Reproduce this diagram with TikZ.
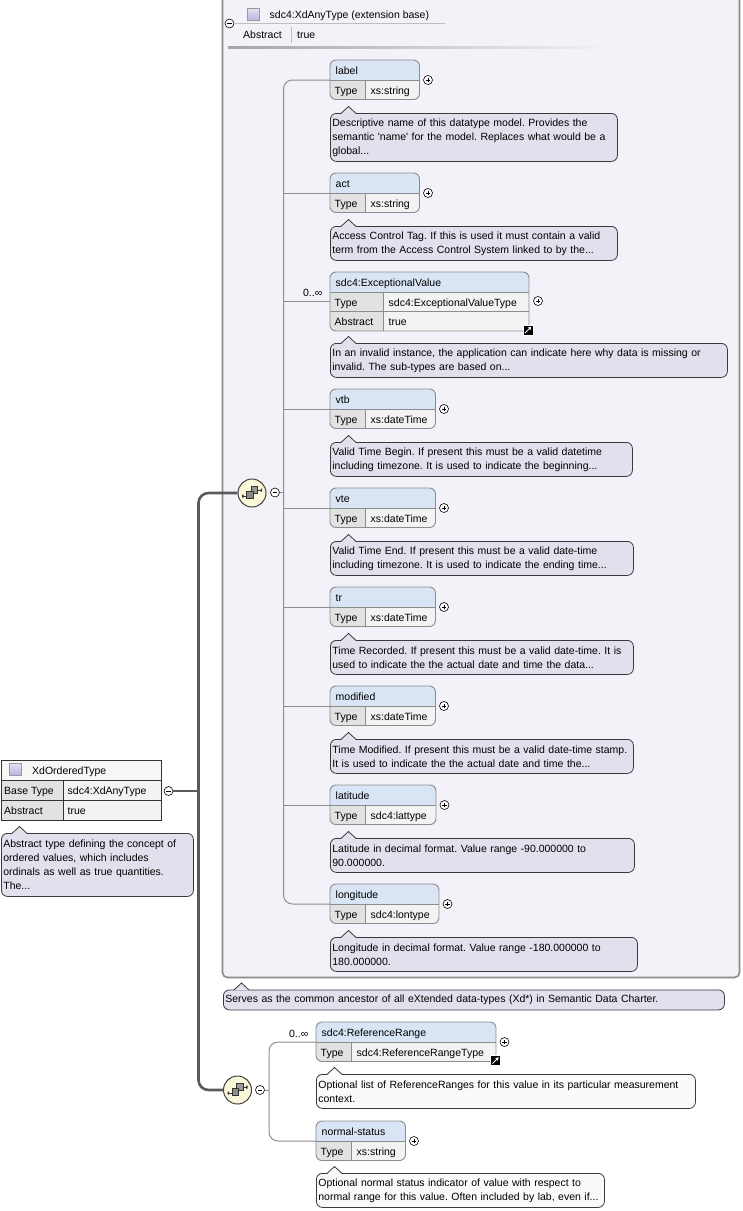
\documentclass[tikz,border=0pt]{standalone}
\usepackage{fontspec}
\setmainfont{Liberation Sans}
\usetikzlibrary{arrows.meta}

\definecolor{extbg}{HTML}{F4F2F9}
\definecolor{extline}{HTML}{8A8A8A}
\definecolor{hdrblue}{HTML}{D9E5F5}
\definecolor{keygray}{HTML}{E2E2E2}
\definecolor{valgray}{HTML}{F3F3F3}
\definecolor{ordhead}{HTML}{F7F7F7}
\definecolor{boxline}{HTML}{8C8C8C}
\definecolor{notefill}{HTML}{E4DFEC}
\definecolor{notewhite}{HTML}{FAFAFA}
\definecolor{noteline}{HTML}{3A3A3A}
\definecolor{seqfill}{HTML}{FBF8DA}
\definecolor{trunkgray}{HTML}{5A5A5A}
\definecolor{branchgray}{HTML}{8E8E8E}
\definecolor{iconpurple}{HTML}{BFB0E0}

\newcommand{\dfont}{\fontsize{10.5}{14}\selectfont}
\frenchspacing

\tikzset{
  txt/.style={inner sep=0pt, anchor=base west, font=\dfont},
  elemline/.style={draw=boxline, line width=0.9pt},
  ordline/.style={draw=black!80, line width=0.9pt},
  note/.style={draw=noteline, rounded corners=6pt, line width=0.8pt, anchor=north west,
    align=left, inner xsep=2pt, inner ysep=0pt, font=\dfont},
  btn/.style={circle, draw=black, fill=white, line width=0.6pt, minimum size=9pt, inner sep=0pt},
  plusbtn/.style={btn, path picture={
    \draw[line width=0.7pt] ([xshift=-2.3pt]path picture bounding box.center) -- ([xshift=2.3pt]path picture bounding box.center)
      ([yshift=-2.3pt]path picture bounding box.center) -- ([yshift=2.3pt]path picture bounding box.center);}},
  minusbtn/.style={btn, path picture={
    \draw[line width=0.7pt] ([xshift=-2.3pt]path picture bounding box.center) -- ([xshift=2.3pt]path picture bounding box.center);}},
  seq/.style={circle, draw=black!75, fill=seqfill, line width=1pt, minimum size=28pt, inner sep=0pt},
  typeicon/.style={draw=black!40, top color=iconpurple!40, bottom color=iconpurple, minimum size=12pt, inner sep=0pt},
  linkicon/.style={fill=black, draw=white, line width=0.5pt, minimum size=10pt, inner sep=0pt, path picture={
    \draw[white, line width=1pt, -{Stealth[length=3.4pt,width=4pt]}] ([shift={(-3pt,-3pt)}]path picture bounding box.center) -- ([shift={(3.2pt,3.2pt)}]path picture bounding box.center);}},
  branch/.style={draw=branchgray, line width=1pt},
  trunk/.style={draw=trunkgray, line width=2.6pt},
}

% element box: name, left, top, right, key/value split, label, type
\newcommand{\xelem}[7]{%
  \begin{scope}
    \clip[rounded corners=6pt] (#2,#3) rectangle (#4,#3+39.5);
    \fill[hdrblue] (#2,#3) rectangle (#4,#3+20.5);
    \fill[keygray] (#2,#3+20.5) rectangle (#5,#3+39.5);
    \fill[valgray] (#5,#3+20.5) rectangle (#4,#3+39.5);
  \end{scope}
  \draw[elemline, rounded corners=6pt] (#2,#3) rectangle (#4,#3+39.5);
  \draw[elemline] (#2,#3+20.5) -- (#4,#3+20.5) (#5,#3+20.5) -- (#5,#3+39.5);
  \node[txt] (#1-name) at (#2+5.5,#3+14) {#6};
  \node[txt] (#1-key) at (#2+4.5,#3+34) {Type};
  \node[txt] (#1-type) at (#5+5.5,#3+34) {#7};
  \node[plusbtn] (#1-plus) at (#4+8.5,#3+20) {};
  \coordinate (#1) at (#2,#3+20);
}

% annotation callout: [fill], name, left, top, text width, height, text
\newcommand{\xnote}[7][notefill]{%
  \node[note, fill=#1, text width=#5, minimum height=#6] (#2) at (#3,#4) {#7};
  \fill[#1] ([xshift=11pt,yshift=-0.8pt]#2.north west) -- ([xshift=18.5pt,yshift=6.5pt]#2.north west)
    -- ([xshift=26pt,yshift=-0.8pt]#2.north west) -- cycle;
  \draw[noteline, line width=0.8pt] ([xshift=11pt,yshift=-0.4pt]#2.north west) -- ([xshift=18.5pt,yshift=6.5pt]#2.north west)
    -- ([xshift=26pt,yshift=-0.4pt]#2.north west);
}

% sequence compositor glyph
\newcommand{\seqicon}[1]{%
  \draw[black!80, line width=0.8pt] ([shift={(-9,3)}]#1.center) -- ([shift={(-4,3)}]#1.center)
    ([shift={(4,-3)}]#1.center) -- ([shift={(9,-3)}]#1.center);
  \fill[black!80] ([shift={(-10,1.5)}]#1.center) rectangle ([shift={(-8.5,4.5)}]#1.center)
    ([shift={(8.5,-4.5)}]#1.center) rectangle ([shift={(10,-1.5)}]#1.center);
  \filldraw[fill=black!40, draw=black!80, line width=0.6pt] ([shift={(-1,-6.5)}]#1.center) rectangle ([shift={(5.5,0)}]#1.center);
  \filldraw[fill=black!45, draw=black!80, line width=0.6pt] ([shift={(-5.5,-1.5)}]#1.center) rectangle ([shift={(1,5)}]#1.center);
}

\begin{document}
\begin{tikzpicture}[x=1pt,y=-1pt]
  \useasboundingbox (0,0) rectangle (743,1211);

  % extension base frame
  \draw[draw=extline, fill=extbg, line width=1.6pt, rounded corners=5pt] (222.5,-20) rectangle (739.5,977.5);
  \node[minusbtn] (any-minus) at (229.5,23.5) {};
  \node[typeicon] (any-icon) at (253.5,14.5) {};
  \node[txt] (any-name) at (269.5,18.8) {sdc4:XdAnyType (extension base)};
  \draw[black!25, line width=0.8pt] (any-minus.east) -- (445,23.5);
  \node[txt] (any-abs-key) at (243,38.8) {Abstract};
  \node[txt] (any-abs-val) at (297,38.8) {true};
  \draw[black!25, line width=0.8pt] (291.5,27) -- (291.5,43);
  \shade[left color=black!35, right color=extbg] (228,46) rectangle (615,48);

  % trunk from XdOrderedType
  \node[seq] (seqA) at (252,493) {};
  \node[seq] (seqB) at (237.5,1090) {};
  \seqicon{seqA}
  \seqicon{seqB}
  \node[minusbtn] (ord-minus) at (168.5,791) {};
  \coordinate (hub) at (198.5,791);
  \draw[trunk] (ord-minus.east) -- (hub);
  \draw[trunk, rounded corners=10pt] (seqA.west) -| (hub) |- (seqB.west);

  % XdOrderedType
  \fill[ordhead] (1,760) rectangle (161,780);
  \fill[keygray] (1,780) rectangle (63,820.5);
  \fill[valgray] (63,780) rectangle (161,820.5);
  \draw[ordline] (1,760) rectangle (161,820.5) (1,780) -- (161,780) (1,800) -- (161,800) (63,780) -- (63,820.5);
  \node[typeicon] (ord-icon) at (15.5,769.5) {};
  \node[txt] (ord-name) at (32,774.3) {XdOrderedType};
  \node[txt] (ord-base-key) at (4,794.3) {Base Type};
  \node[txt] (ord-base-val) at (67.5,794.3) {sdc4:XdAnyType};
  \node[txt] (ord-abs-key) at (4,814.3) {Abstract};
  \node[txt] (ord-abs-val) at (67.5,814.3) {true};
  \xnote{ord-note}{1}{833}{188pt}{63pt}{Abstract type defining the concept of\\ordered values, which includes\\ordinals as well as true quantities.\\The...}

  % first sequence
  \xelem{label}{330}{60}{419.5}{365}{label}{xs:string}
  \xnote{label-note}{330}{113}{283pt}{48pt}{Descriptive name of this datatype model. Provides the\\semantic \textquotesingle name\textquotesingle{} for the model. Replaces what would be a\\global...}
  \xelem{act}{330}{173}{419.5}{365}{act}{xs:string}
  \xnote{act-note}{330}{226}{283pt}{34pt}{Access Control Tag. If this is used it must contain a valid\\term from the Access Control System linked to by the...}

  \begin{scope}
    \clip[rounded corners=6pt] (330,272) rectangle (529,331);
    \fill[hdrblue] (330,272) rectangle (529,292.5);
    \fill[keygray] (330,292.5) rectangle (383,331);
    \fill[valgray] (383,292.5) rectangle (529,331);
  \end{scope}
  \draw[elemline, rounded corners=6pt] (330,272) rectangle (529,331);
  \draw[elemline] (330,292.5) -- (529,292.5) (330,311.5) -- (529,311.5) (383,292.5) -- (383,331);
  \node[txt] (exc-name) at (335.5,286.3) {sdc4:ExceptionalValue};
  \node[txt] (exc-key) at (334.5,306) {Type};
  \node[txt] (exc-type) at (388.5,306) {sdc4:ExceptionalValueType};
  \node[txt] (exc-abs-key) at (334.5,325.5) {Abstract};
  \node[txt] (exc-abs-val) at (388.5,325.5) {true};
  \node[plusbtn] (exc-plus) at (538,301) {};
  \node[linkicon] (exc-link) at (528,330) {};
  \coordinate (exc) at (330,301.5);
  \node[txt, anchor=base east] (exc-mult) at (322.5,296.5) {0..∞};
  \xnote{exc-note}{330}{343}{393pt}{34pt}{In an invalid instance, the application can indicate here why data is missing or\\invalid. The sub-types are based on...}

  \xelem{vtb}{330}{389}{435.5}{365}{vtb}{xs:dateTime}
  \xnote{vtb-note}{330}{442}{298pt}{34pt}{Valid Time Begin. If present this must be a valid datetime\\including timezone. It is used to indicate the beginning...}
  \xelem{vte}{330}{488}{435.5}{365}{vte}{xs:dateTime}
  \xnote{vte-note}{330}{541}{299pt}{34pt}{Valid Time End. If present this must be a valid date-time\\including timezone. It is used to indicate the ending time...}
  \xelem{tr}{330}{587}{435.5}{365}{tr}{xs:dateTime}
  \xnote{tr-note}{330}{640}{299pt}{34pt}{Time Recorded. If present this must be a valid date-time. It is\\used to indicate the the actual date and time the data...}
  \xelem{modified}{330}{686}{435.5}{365}{modified}{xs:dateTime}
  \xnote{modified-note}{330}{739}{299pt}{34pt}{Time Modified. If present this must be a valid date-time stamp.\\It is used to indicate the the actual date and time the...}
  \xelem{latitude}{330}{785}{436}{365}{latitude}{sdc4:lattype}
  \xnote{latitude-note}{330}{838}{300pt}{34pt}{Latitude in decimal format. Value range -90.000000 to\\90.000000.}
  \xelem{longitude}{330}{884}{439}{365}{longitude}{sdc4:lontype}
  \xnote{longitude-note}{330}{937}{303pt}{34pt}{Longitude in decimal format. Value range -180.000000 to\\180.000000.}

  \node[minusbtn] (seqA-minus) at (275,492.5) {};
  \coordinate (spineA) at (283.5,493);
  \draw[branch, rounded corners=9pt] (label) -| (spineA) |- (longitude);
  \foreach \e in {act,exc,vtb,vte,tr,modified,latitude}
    \draw[branch] (\e -| spineA) -- (\e);
  \draw[branch] (seqA-minus.east) -- (seqA-minus.east -| spineA);

  \xnote{any-note}{223}{989.5}{497pt}{20pt}{Serves as the common ancestor of all eXtended data-types (Xd*) in Semantic Data Charter.}

  % second sequence
  \xelem{refrange}{316}{1022}{496}{351}{sdc4:ReferenceRange}{sdc4:ReferenceRangeType}
  \node[linkicon] (refrange-link) at (495.5,1060.5) {};
  \node[txt, anchor=base east] (refrange-mult) at (308.5,1037.5) {0..∞};
  \xnote[notewhite]{refrange-note}{316}{1074}{375pt}{34pt}{Optional list of ReferenceRanges for this value in its particular measurement\\context.}
  \xelem{normstat}{316}{1121}{405.5}{351}{normal-status}{xs:string}
  \xnote[notewhite]{normstat-note}{316}{1173}{284pt}{34pt}{Optional normal status indicator of value with respect to\\normal range for this value. Often included by lab, even if...}

  \node[minusbtn] (seqB-minus) at (260,1090) {};
  \coordinate (spineB) at (269,1090);
  \draw[branch, rounded corners=9pt] (refrange) -| (spineB) |- (normstat);
  \draw[branch] (seqB-minus.east) -- (seqB-minus.east -| spineB);
\end{tikzpicture}
\end{document}
